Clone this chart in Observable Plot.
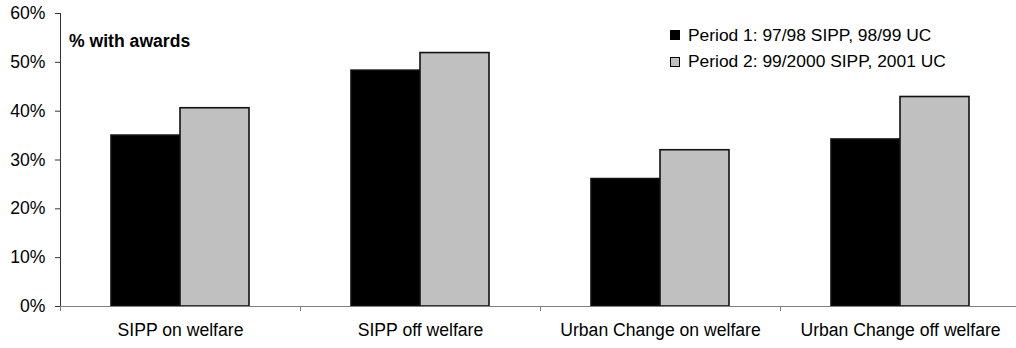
<!DOCTYPE html>
<html>
<head>
<meta charset="utf-8">
<script src="https://cdn.jsdelivr.net/npm/d3@7"></script>
<script src="https://cdn.jsdelivr.net/npm/@observablehq/plot@0.6"></script>
<style>
  html, body { margin: 0; padding: 0; background: #fff; }
  #chart { position: relative; width: 1016px; height: 348px; font-family: Arial, "Liberation Sans", sans-serif; }
  #legend { position: absolute; left: 670px; top: 22px; font-size: 17.4px; color: #000; }
  #legend .row { display: flex; align-items: center; height: 26.5px; white-space: nowrap; }
  #legend .sw { width: 8px; height: 8px; border: 1px solid #000; margin-right: 8px; }
</style>
</head>
<body>
<div id="chart"><div id="legend"></div></div>
<script>
// Award rates by group and period
const categories = ["SIPP on welfare", "SIPP off welfare", "Urban Change on welfare", "Urban Change off welfare"];
const periods = ["Period 1: 97/98 SIPP, 98/99 UC", "Period 2: 99/2000 SIPP, 2001 UC"];
const period1 = [35.0, 48.3, 26.1, 34.2];
const period2 = [40.6, 51.9, 32.0, 42.9];
const periodColors = ["#000000", "#c0c0c0"];
const yTicks = [0, 10, 20, 30, 40, 50, 60];
const yTitle = "% with awards";

const series = [period1, period2];
const data = categories.flatMap((category, i) =>
  periods.map((period, p) => ({category, period, value: series[p][i]}))
);

const width = 1016, height = 348;
const marginLeft = 60, marginRight = -4, marginTop = 13, marginBottom = 42;
const halfStep = (width - marginLeft - marginRight) / categories.length / 2;

const chart = Plot.plot({
  width, height, marginLeft, marginRight, marginTop, marginBottom,
  style: {fontSize: "17.6px", fontFamily: "Arial, 'Liberation Sans', sans-serif", color: "#000", background: "#fff"},
  fx: {domain: categories, padding: 0, axis: null},
  x: {domain: periods, paddingInner: 0, paddingOuter: 0.727, axis: null},
  y: {domain: [0, 60], axis: null},
  color: {domain: periods, range: periodColors},
  marks: [
    // category boundary ticks below the baseline
    Plot.axisFx({anchor: "bottom", tickSize: 5, tickFormat: () => "", dx: -halfStep, stroke: "#808080", label: null}),
    // category names
    Plot.axisFx({anchor: "bottom", tickSize: 0, tickPadding: 17, label: null}),
    Plot.axisY({ticks: yTicks, tickSize: 5, tickPadding: 10, tickFormat: d => d + "%", label: null, stroke: "#333"}),
    Plot.frame({anchor: "left", facetAnchor: "left", stroke: "#333"}),
    Plot.barY(data, {fx: "category", x: "period", y: "value", fill: "period", stroke: "#111", strokeWidth: 1.6}),
    Plot.ruleY([0], {stroke: "#808080"}),
    Plot.text([yTitle], {frameAnchor: "top-left", facetAnchor: "left", dx: 8.5, dy: 21, fontWeight: "bold", lineAnchor: "top"})
  ]
});
document.getElementById("chart").prepend(chart);

// legend drawn from the same period colours
const legend = d3.select("#legend");
periods.forEach((p, i) => {
  const row = legend.append("div").attr("class", "row");
  row.append("div").attr("class", "sw").style("background", periodColors[i]);
  row.append("span").text(p);
});
</script>
</body>
</html>
